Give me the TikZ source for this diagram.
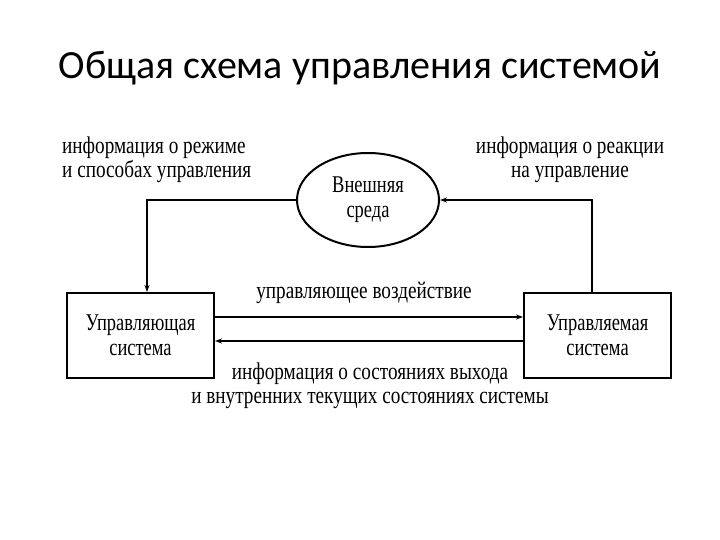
\documentclass[tikz,border=0pt]{standalone}
\usepackage{fontspec}
\setmainfont{Liberation Serif}
\newfontfamily\titlefont{Carlito}
\newfontfamily\condfont[FakeStretch=0.8]{Liberation Serif}
\newfontfamily\boxfont[FakeStretch=0.77]{Liberation Serif}
\usetikzlibrary{arrows.meta,shapes.geometric}
\begin{document}
\begin{tikzpicture}[x=1pt,y=-1pt,
  lbl/.style={font=\condfont\fontsize{24}{24}\selectfont, inner sep=0pt, align=center},
  sysbox/.style={draw, line width=2pt, minimum width=147pt, minimum height=85pt, inner sep=0pt, align=center, font=\boxfont\fontsize{24}{25}\selectfont},
  env/.style={draw, ellipse, line width=2pt, minimum width=142pt, minimum height=94pt, inner sep=0pt, align=center, font=\boxfont\fontsize{24}{25}\selectfont},
  conn/.style={line width=1.5pt, -{Stealth[length=7pt,width=5pt]}}]
\useasboundingbox[fill=white] (0,0) rectangle (720,540);
\node[font=\titlefont\fontsize{40}{44}\selectfont, inner sep=0pt] (title) at (360,68) {Общая схема управления системой};
\node[env] (E) at (368,200) {Внешняя\\среда};
\node[sysbox] (L) at (140.5,335.5) {Управляющая\\система};
\node[sysbox] (R) at (597.5,335) {Управляемая\\система};
\node[lbl, align=left, anchor=west] (t1) at (62,160) {информация о режиме\\и способах управления};
\node[lbl] (t2) at (570,160) {информация о реакции\\на управление};
\node[lbl] (t3) at (364,293) {управляющее воздействие};
\node[lbl] (t4) at (370,386) {информация о состояниях выхода\\и внутренних текущих состояниях системы};
\draw[conn] (E.west) -| ([xshift=6.5pt]L.north);
\draw[conn] ([xshift=-5.5pt]R.north) |- (E.east);
\draw[conn] ([yshift=18.5pt]L.east) -- ([yshift=18pt]R.west);
\draw[conn] ([yshift=-6pt]R.west) -- ([yshift=-5.5pt]L.east);
\end{tikzpicture}
\end{document}
